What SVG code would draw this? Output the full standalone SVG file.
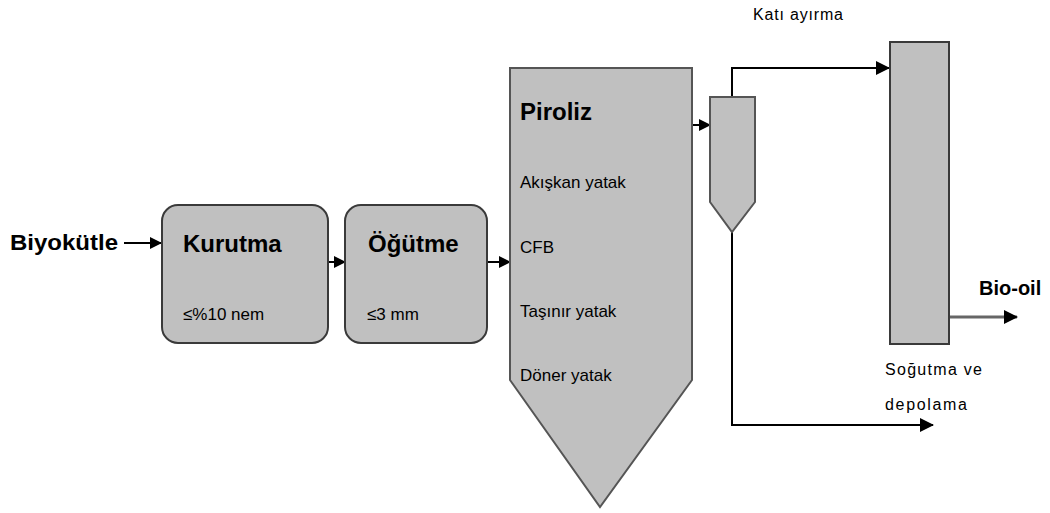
<svg xmlns="http://www.w3.org/2000/svg" width="1050" height="513" viewBox="0 0 1050 513">
<style>
.box{fill:#c0c0c0;stroke:#3a3a3a;stroke-width:2}
.vessel{fill:#c0c0c0;stroke:#555;stroke-width:2}
.line{fill:none;stroke:#000;stroke-width:2}
.gline{fill:none;stroke:#666;stroke-width:3}
.t{font-family:"Liberation Sans Narrow","Liberation Sans",Arial,sans-serif;fill:#000}
.b{font-weight:bold}
</style>
<defs>
<marker id="ah" markerWidth="12" markerHeight="12" refX="11" refY="6" orient="auto" markerUnits="userSpaceOnUse">
<path d="M0,0 L12,6 L0,12 z" fill="#000"/>
</marker>
<marker id="ahb" markerWidth="14" markerHeight="14" refX="13" refY="7" orient="auto" markerUnits="userSpaceOnUse">
<path d="M0,0 L14,7 L0,14 z" fill="#000"/>
</marker>
</defs>
<g id="connectors">
<line class="line" x1="124" y1="243" x2="161" y2="243" marker-end="url(#ah)"/>
<line class="line" x1="329" y1="262" x2="345" y2="262" marker-end="url(#ah)"/>
<line class="line" x1="488" y1="262" x2="510" y2="262" marker-end="url(#ah)"/>
<line class="line" x1="688" y1="125" x2="710" y2="125" marker-end="url(#ah)"/>
<polyline class="line" points="732,97 732,68 889,68" marker-end="url(#ahb)"/>
<polyline class="line" points="732,232 732,425 933,425" marker-end="url(#ahb)"/>
<line class="gline" x1="950" y1="317" x2="1017" y2="317" marker-end="url(#ahb)"/>
</g>
<g id="biyokutle">
<text class="t b" x="10" y="250" font-size="22" textLength="108" lengthAdjust="spacingAndGlyphs">Biyokütle</text>
</g>
<g id="kurutma">
<rect class="box" x="162" y="205" width="166" height="138" rx="16"/>
<text class="t b" x="183" y="252" font-size="24">Kurutma</text>
<text class="t" x="183" y="320" font-size="17">≤%10 nem</text>
</g>
<g id="ogutme">
<rect class="box" x="345" y="205" width="142" height="138" rx="16"/>
<text class="t b" x="368" y="252" font-size="24">Öğütme</text>
<text class="t" x="367" y="320" font-size="17">≤3 mm</text>
</g>
<g id="piroliz">
<polygon class="vessel" points="510,68 692,68 692,380 600,507 510,380"/>
<text class="t b" x="520" y="120" font-size="24">Piroliz</text>
<text class="t" x="520" y="188" font-size="17">Akışkan yatak</text>
<text class="t" x="520" y="253" font-size="17">CFB</text>
<text class="t" x="520" y="317" font-size="17">Taşınır yatak</text>
<text class="t" x="520" y="381" font-size="17">Döner yatak</text>
</g>
<g id="kati-ayirma">
<polygon class="vessel" points="710,97 755,97 755,202 732,232 710,202"/>
<text class="t" x="753" y="20" font-size="16" textLength="90" lengthAdjust="spacing">Katı ayırma</text>
</g>
<g id="sogutma">
<rect class="box" x="890" y="42" width="59" height="302"/>
<text class="t" x="885" y="375" font-size="16" textLength="97" lengthAdjust="spacing">Soğutma ve</text>
<text class="t" x="885" y="410" font-size="16" textLength="82" lengthAdjust="spacing">depolama</text>
</g>
<g id="bio-oil">
<text class="t b" x="979" y="295" font-size="20">Bio-oil</text>
</g>
</svg>
